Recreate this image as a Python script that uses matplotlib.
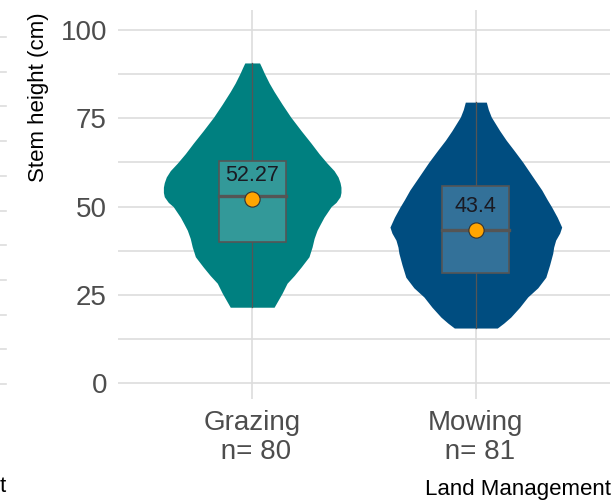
import numpy as np
import matplotlib
matplotlib.use("Agg")
import matplotlib.pyplot as plt

plt.rcParams['font.family'] = ['Liberation Sans', 'DejaVu Sans']

# data
groups = ['Grazing', 'Mowing']
counts = [80, 81]
colors = ['#008080', '#004d80']
box_colors = ['#339999', '#337199']

# violin outlines: height (cm) and half-width (x units)
graz_y = [90.7, 89.5, 87.8, 85.0, 82.6, 79.0, 75.4, 71.5, 68.0, 65.0, 62.3, 60.2, 58.4, 56.8, 55.5, 54.0,
          52.8, 51.2, 50.0, 47.0, 45.0, 43.3, 41.0, 38.6, 35.8, 32.9, 30.5, 28.3, 25.5, 23.5, 21.5]
graz_w = [0.033, 0.042, 0.054, 0.076, 0.098, 0.134, 0.172, 0.219, 0.263, 0.299, 0.335, 0.366, 0.384, 0.393, 0.397, 0.397,
          0.393, 0.375, 0.353, 0.321, 0.304, 0.290, 0.277, 0.268, 0.254, 0.219, 0.188, 0.156, 0.134, 0.116, 0.098]
mow_y = [79.6, 77.5, 75.4, 71.5, 68.8, 66.0, 62.6, 58.5, 54.7, 52.0, 49.9, 47.0, 44.2, 42.5, 40.5, 38.5, 36.8,
         33.5, 30.0, 27.0, 24.4, 21.5, 18.7, 17.0, 15.6]
mow_w = [0.047, 0.056, 0.069, 0.107, 0.136, 0.170, 0.210, 0.254, 0.295, 0.319, 0.339, 0.364, 0.384, 0.375, 0.357, 0.348, 0.344,
         0.330, 0.313, 0.277, 0.232, 0.196, 0.156, 0.125, 0.096]

q1 = [40.0, 31.2]
medians = [53.0, 43.3]
q3 = [62.9, 55.8]
lo = [21.5, 15.6]
hi = [90.7, 79.6]
means = [52.27, 43.4]

fig = plt.figure(figsize=(6.15, 5), dpi=100)

# sliver of the neighbouring panel on the left edge
axl = fig.add_axes([0, (500 - 384) / 500, 6 / 615, 347 / 500])
axl.set_xlim(0, 1)
axl.set_ylim(0, 10)
for v in range(11):
    axl.axhline(v, color='#dddddd', lw=1.2, clip_on=False)
axl.axis('off')
fig.text(6 / 615, 8 / 500, 't', ha='right', va='baseline', fontsize=16)

ax = fig.add_axes([118 / 615, (500 - 399) / 500, 492 / 615, 389 / 500])
ax.set_xlim(0.4, 2.6)
ax.set_ylim(-4.5, 105.7)

for y in [0, 12.5, 25, 37.5, 50, 62.5, 75, 87.5, 100]:
    ax.axhline(y, color='#dddddd', lw=1.2, zorder=0)
for x in [1, 2]:
    ax.axvline(x, color='#dddddd', lw=1.2, zorder=0)

profiles = [(graz_y, graz_w), (mow_y, mow_w)]
for i, (py, pw) in enumerate(profiles):
    x = i + 1
    py = np.array(py)
    pw = np.array(pw)
    ax.fill_betweenx(py, x - pw, x + pw, color=colors[i], lw=0, zorder=2)
    # whiskers
    ax.plot([x, x], [lo[i], q1[i]], color='#555555', lw=0.9, zorder=3)
    ax.plot([x, x], [q3[i], hi[i]], color='#555555', lw=0.9, zorder=3)
    bw = 0.15
    ax.add_patch(plt.Rectangle((x - bw, q1[i]), 2 * bw, q3[i] - q1[i],
                               facecolor=box_colors[i], edgecolor='#555555', lw=1.2, zorder=3))
    ax.plot([x - bw, x + bw], [medians[i], medians[i]], color='#555555', lw=2.4, zorder=4)
    ax.scatter([x], [means[i]], s=120, color='#FFA500', edgecolor='#333333',
               linewidths=0.8, zorder=5)
    ax.text(x, means[i] + 6.6, str(means[i]), ha='center', va='center',
            fontsize=15.5, color='#1a1a22', zorder=6)

ax.set_yticks([0, 25, 50, 75, 100])
ax.set_xticks([1, 2])
ax.set_xticklabels([g + '\n n= ' + str(n) for g, n in zip(groups, counts)],
                   linespacing=1.15)
ax.tick_params(axis='both', length=0, labelsize=20, labelcolor='#4d4d4d')
ax.tick_params(axis='y', pad=8)
ax.tick_params(axis='x', pad=8)
for s in ax.spines.values():
    s.set_visible(False)

fig.text(39 / 615, (500 - 12) / 500, 'Stem height (cm)', rotation=90,
         ha='center', va='top', fontsize=16)
fig.text(611 / 615, 5 / 500, 'Land Management', ha='right', va='baseline', fontsize=16)

fig.savefig('out.png', dpi=100)
